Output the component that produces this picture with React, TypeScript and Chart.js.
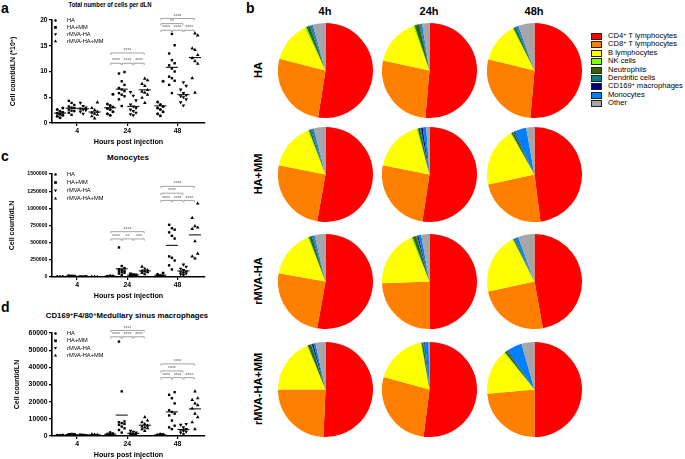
import React, { useEffect, useRef } from 'react';
import { Chart, registerables } from 'chart.js';

Chart.register(...registerables);

const FONT = '"Liberation Sans", Arial, Helvetica, sans-serif';

// ---------- shared categories ----------
const timeLabels = ['4', '24', '48'];
const groupNames = ['HA', 'HA+MM', 'rMVA-HA', 'rMVA-HA+MM'];

// ---------- panel a: total cells per dLN (x10^6), [4h, 24h, 48h] ----------
const totalHA = [
  [1.0, 1.3, 1.5, 1.7, 1.9, 2.1, 2.3, 2.6, 2.9],
  [1.5, 1.8, 2.2, 2.6, 2.8, 3.1, 3.4, 3.7, 5.6],
  [1.4, 1.8, 2.2, 2.6, 2.9, 3.2, 3.6, 4.1, 8.1],
];
const totalHAMM = [
  [1.6, 2.0, 2.3, 2.6, 2.9, 3.2, 3.5, 3.9, 4.3, 2.4, 3.0],
  [3.3, 4.6, 5.2, 5.8, 6.2, 6.8, 7.4, 8.1, 9.6, 9.9, 5.5, 6.5],
  [5.8, 7.4, 8.2, 9.0, 10.0, 10.6, 11.2, 12.2, 13.5, 15.1, 17.3, 8.7, 11.6],
];
const totalRMVA = [
  [1.8, 2.2, 2.5, 2.8, 3.0, 3.3, 3.9, 2.6],
  [1.5, 1.7, 2.3, 2.6, 2.9, 3.2, 3.6, 4.4, 5.3, 6.0, 2.0],
  [3.4, 4.0, 4.6, 5.0, 5.4, 5.8, 6.5, 7.2, 7.9, 5.2],
];
const totalRMVAMM = [
  [0.9, 1.3, 1.6, 2.0, 2.2, 2.5, 2.9, 4.0, 1.8],
  [3.9, 4.9, 5.5, 5.9, 6.4, 7.2, 7.6, 8.3, 8.6, 6.1],
  [5.9, 8.7, 11.5, 12.6, 13.2, 14.2, 14.5, 17.0, 17.4, 12.0],
];

// ---------- panel c: monocytes ----------
const monoHA = [
  [1500, 2500, 3500, 4500, 2000, 3000],
  [4000, 8000, 12000, 16000, 20000, 6000, 10000],
  [5000, 10000, 15000, 25000, 40000, 60000],
];
const monoHAMM = [
  [8000, 12000, 16000, 20000, 10000, 14000, 18000, 6000],
  [30000, 50000, 60000, 70000, 80000, 90000, 100000, 110000, 130000, 160000, 430000],
  [760000, 710000, 690000, 650000, 600000, 560000, 300000, 280000, 240000, 170000, 110000],
];
const monoRMVA = [
  [4000, 6000, 8000, 10000, 5000, 7000],
  [10000, 15000, 20000, 25000, 30000, 35000, 40000, 50000],
  [30000, 40000, 50000, 60000, 70000, 80000, 100000, 120000, 150000, 180000],
];
const monoRMVAMM = [
  [1500, 2500, 3500, 2000, 3000],
  [40000, 60000, 70000, 80000, 90000, 100000, 120000, 150000],
  [1070000, 860000, 740000, 720000, 700000, 520000, 340000, 300000, 270000],
];

// ---------- panel d: CD169+F4/80+ medullary sinus macrophages ----------
const macHA = [
  [200, 300, 400, 500, 600, 350],
  [300, 600, 900, 1200, 1500, 800, 2000],
  [200, 400, 500, 600, 800, 1000, 1200],
];
const macHAMM = [
  [600, 700, 800, 900, 1000, 1100, 1200],
  [2000, 3500, 4500, 5500, 6500, 7000, 7500, 8000, 8500, 26000, 55000],
  [4000, 5000, 6000, 9000, 12000, 13000, 14000, 15000, 19000, 22000, 24000, 25500],
];
const macRMVA = [
  [400, 500, 600, 700, 800],
  [500, 800, 1000, 1200, 1500, 2000, 2500, 3000],
  [1000, 2000, 2500, 3000, 3500, 4000, 5000, 6500, 7000],
];
const macRMVAMM = [
  [500, 600, 700, 800, 900],
  [3000, 4000, 4500, 5000, 5500, 6000, 7000, 8000, 9000, 11000],
  [4000, 8000, 11000, 13000, 16000, 18000, 19000, 21000, 22000, 26000],
];

// significance brackets: [timeIndex, group1, group2, value level, label]
const bracketsA: [number, number, number, number, string][] = [
  [1, 0, 3, 13.6, '****'],
  [1, 0, 1, 11.6, '****'], [1, 1, 2, 11.6, '****'], [1, 2, 3, 11.6, '****'],
  [2, 0, 3, 20.3, '****'],
  [2, 0, 2, 19.3, '**'],
  [2, 0, 1, 18.0, '****'], [2, 1, 2, 18.0, '****'], [2, 2, 3, 18.0, '****'],
];
const bracketsC: [number, number, number, number, string][] = [
  [1, 0, 3, 660000, '****'],
  [1, 0, 1, 555000, '****'], [1, 1, 2, 555000, '**'], [1, 2, 3, 555000, '***'],
  [2, 0, 3, 1320000, '****'],
  [2, 0, 2, 1220000, '****'],
  [2, 0, 1, 1115000, '****'], [2, 1, 2, 1115000, '****'], [2, 2, 3, 1115000, '****'],
];
const bracketsD: [number, number, number, number, string][] = [
  [1, 0, 3, 61500, '****'],
  [1, 0, 1, 57800, '****'], [1, 1, 2, 57800, '****'], [1, 2, 3, 57800, '****'],
  [2, 0, 3, 42000, '****'],
  [2, 0, 2, 37900, '****'],
  [2, 0, 1, 34000, '****'], [2, 1, 2, 34000, '****'], [2, 2, 3, 34000, '****'],
];

// ---------- panel b: pie compositions (%) ----------
const pieCategories = [
  'CD4+ T lymphocytes', 'CD8+ T lymphocytes', 'B lymphocytes', 'NK cells', 'Neutrophils',
  'Dendritic cells', 'CD169+ macrophages', 'Monocytes', 'Other',
];
const pieColors = ['#FF0000', '#FF8000', '#FFFF00', '#80FF00', '#336600', '#008080', '#000080', '#0080FF', '#A6A6A6'];
const pieHA4 = [52.5, 26.5, 13.8, 0.6, 1.2, 0.3, 0.2, 0.6, 4.3];
const pieHA24 = [51.4, 27.0, 16.0, 0.5, 1.6, 0.2, 0.2, 0.6, 2.5];
const pieHA48 = [51.4, 27.4, 13.5, 0.4, 0.8, 0.2, 0.2, 0.6, 5.5];
const pieHAMM4 = [52.8, 25.3, 15.8, 0.4, 0.6, 0.2, 0.2, 0.7, 4.0];
const pieHAMM24 = [52.4, 25.7, 17.5, 0.4, 0.8, 0.3, 0.6, 1.2, 1.1];
const pieHAMM48 = [48.0, 23.6, 20.0, 0.3, 0.8, 0.2, 0.3, 4.0, 2.8];
const pieRMVA4 = [52.8, 25.0, 16.1, 0.4, 1.0, 0.2, 0.2, 0.6, 3.7];
const pieRMVA24 = [50.0, 24.4, 19.3, 0.5, 1.3, 0.3, 0.4, 1.0, 2.8];
const pieRMVA48 = [47.2, 24.4, 20.6, 0.4, 0.4, 0.2, 0.2, 1.0, 5.6];
const pieRMVAMM4 = [50.7, 24.3, 18.6, 0.3, 1.2, 0.3, 0.5, 0.7, 3.4];
const pieRMVAMM24 = [52.0, 27.2, 17.8, 0.3, 0.6, 0.3, 0.3, 1.2, 0.3];
const pieRMVAMM48 = [50.0, 23.6, 15.3, 0.4, 0.8, 0.2, 0.3, 5.0, 4.4];

const pieRows = [
  ['HA', [pieHA4, pieHA24, pieHA48]],
  ['HA+MM', [pieHAMM4, pieHAMM24, pieHAMM48]],
  ['rMVA-HA', [pieRMVA4, pieRMVA24, pieRMVA48]],
  ['rMVA-HA+MM', [pieRMVAMM4, pieRMVAMM24, pieRMVAMM48]],
] as [string, number[][]][];
const pieColumns = ['4h', '24h', '48h'];

// ---------- layout ----------
const OFFSETS = [-0.34, -0.11, 0.12, 0.35];
const MARKERS = ['circle', 'rect', 'triangleDown', 'triangle'];
const PIE_CX = [325, 429, 534];
const PIE_CY = [70, 174, 281, 389];
const PIE_R = 47.5;

function drawMarker(ctx: CanvasRenderingContext2D, kind: string, x: number, y: number, r: number) {
  ctx.beginPath();
  if (kind === 'circle') ctx.arc(x, y, r * 0.8, 0, Math.PI * 2);
  else if (kind === 'rect') ctx.rect(x - r * 0.85, y - r * 0.85, r * 1.7, r * 1.7);
  else if (kind === 'triangle') {
    ctx.moveTo(x, y - r * 1.1); ctx.lineTo(x + r, y + r * 0.7); ctx.lineTo(x - r, y + r * 0.7); ctx.closePath();
  } else {
    ctx.moveTo(x, y + r * 1.1); ctx.lineTo(x + r, y - r * 0.7); ctx.lineTo(x - r, y - r * 0.7); ctx.closePath();
  }
  ctx.fill();
}

type PanelProps = {
  series: number[][][];
  yMax: number;
  yStep: number;
  yTitle: string;
  yTitlePad: number;
  tickSize: number;
  brackets: [number, number, number, number, string][];
  legendStep: number;
  top: number;
};

function ScatterPanel(p: PanelProps) {
  const ref = useRef<HTMLCanvasElement>(null);
  useEffect(() => {
    const canvas = ref.current!;
    const datasets: any[] = [];
    p.series.forEach((groupData, g) => {
      const pts: { x: number; y: number }[] = [];
      groupData.forEach((vals, t) => {
        const order = vals.map((_, i) => i).sort((a, b) => vals[a] - vals[b]);
        order.forEach((idx, rank) => {
          const j = [0, -1, 1][rank % 3] * 0.055;
          pts.push({ x: t + 1 + OFFSETS[g] + j, y: vals[idx] });
        });
      });
      datasets.push({
        label: groupNames[g],
        data: pts,
        pointStyle: g === 0 ? 'circle' : g === 1 ? 'rect' : 'triangle',
        pointRotation: g === 2 ? 180 : 0,
        pointRadius: g === 0 ? 1.5 : g === 1 ? 1.7 : 2.1,
        pointBackgroundColor: '#000',
        pointBorderColor: '#000',
        pointBorderWidth: 0,
        showLine: false,
      });
    });
    const meanPts: { x: number; y: number | null }[] = [];
    p.series.forEach((groupData, g) =>
      groupData.forEach((vals, t) => {
        const m = vals.reduce((a, b) => a + b, 0) / vals.length;
        const c = t + 1 + OFFSETS[g];
        meanPts.push({ x: c - 0.12, y: m }, { x: c + 0.12, y: m }, { x: c + 0.13, y: null });
      })
    );
    datasets.push({
      label: 'mean',
      data: meanPts,
      showLine: true,
      spanGaps: false,
      borderColor: '#000',
      borderWidth: 1,
      pointRadius: 0,
    });

    const tickFont = { family: FONT, size: p.tickSize, weight: 'bold' as const };
    const axisCommon = {
      grid: { display: true, drawOnChartArea: false, drawTicks: true, tickLength: 3, color: '#000', lineWidth: 1.2 },
      border: { display: true, color: '#000', width: 1.6 },
    };

    const legendPlugin = {
      id: 'insetLegend',
      afterDraw(chart: any) {
        const { ctx, chartArea } = chart;
        ctx.save();
        ctx.fillStyle = '#000';
        ctx.font = `5.7px ${FONT}`;
        ctx.textBaseline = 'middle';
        ctx.textAlign = 'left';
        groupNames.forEach((name, i) => {
          const yy = chartArea.top + 0.5 + i * p.legendStep;
          drawMarker(ctx, MARKERS[i], chartArea.left + 3.5, yy, 1.6);
          ctx.fillText(name, chartArea.left + 15, yy);
        });
        ctx.restore();
      },
    };
    const bracketPlugin = {
      id: 'sigBrackets',
      afterDatasetsDraw(chart: any) {
        const { ctx, scales } = chart;
        const xs = scales.x, ys = scales.y;
        ctx.save();
        ctx.strokeStyle = '#8a8a8a';
        ctx.fillStyle = '#8a8a8a';
        ctx.lineWidth = 0.8;
        ctx.font = `bold 5px ${FONT}`;
        ctx.textAlign = 'center';
        ctx.textBaseline = 'bottom';
        p.brackets.forEach(([t, g1, g2, lvl, label]) => {
          const x1 = xs.getPixelForValue(t + 1 + OFFSETS[g1]) + 0.6;
          const x2 = xs.getPixelForValue(t + 1 + OFFSETS[g2]) - 0.6;
          const yy = ys.getPixelForValue(lvl);
          ctx.beginPath();
          ctx.moveTo(x1, yy + 1.8);
          ctx.lineTo(x1, yy);
          ctx.lineTo(x2, yy);
          ctx.lineTo(x2, yy + 1.8);
          ctx.stroke();
          ctx.fillText(label, (x1 + x2) / 2, yy + 0.2);
        });
        ctx.restore();
      },
    };

    const chart = new Chart(canvas, {
      type: 'scatter',
      data: { datasets },
      options: {
        responsive: false,
        animation: false,
        devicePixelRatio: 1,
        layout: { padding: { top: 8, right: 10, bottom: 0, left: 0 } },
        plugins: { legend: { display: false }, tooltip: { enabled: false }, title: { display: false } },
        scales: {
          x: {
            type: 'linear',
            min: 0.5,
            max: 3.55,
            afterBuildTicks: (s: any) => { s.ticks = [{ value: 1 }, { value: 2 }, { value: 3 }]; },
            afterFit: (s: any) => { s.height = 23; },
            ticks: {
              callback: (v: any) => timeLabels[Math.round(Number(v)) - 1],
              font: { family: FONT, size: 6.8, weight: 'bold' },
              color: '#000',
              padding: 1,
              maxRotation: 0,
              autoSkip: false,
            },
            title: {
              display: true,
              text: 'Hours post injection',
              font: { family: FONT, size: 7.2, weight: 'bold' },
              color: '#000',
              padding: { top: 0, bottom: 0 },
            },
            ...axisCommon,
          },
          y: {
            min: 0,
            max: p.yMax,
            afterFit: (s: any) => { s.width = 52; },
            ticks: {
              stepSize: p.yStep,
              font: tickFont,
              color: '#000',
              padding: 1.5,
              callback: (v: any) => String(v),
            },
            title: {
              display: true,
              text: p.yTitle,
              font: { family: FONT, size: 7, weight: 'bold' },
              color: '#000',
              padding: { top: p.yTitlePad, bottom: 0 },
            },
            ...axisCommon,
          },
        },
      } as any,
      plugins: [legendPlugin, bracketPlugin],
    });
    return () => chart.destroy();
  }, []);
  return (
    <canvas
      ref={ref}
      width={215}
      height={134}
      style={{ position: 'absolute', left: 0, top: p.top, width: 215, height: 134 }}
    />
  );
}

function PieChart({ values, cx, cy }: { values: number[]; cx: number; cy: number }) {
  const ref = useRef<HTMLCanvasElement>(null);
  useEffect(() => {
    const chart = new Chart(ref.current!, {
      type: 'pie',
      data: {
        labels: pieCategories,
        datasets: [{ data: values, backgroundColor: pieColors, borderWidth: 0 }],
      },
      options: {
        responsive: false,
        animation: false,
        devicePixelRatio: 1,
        layout: { padding: 0 },
        plugins: { legend: { display: false }, tooltip: { enabled: false } },
      } as any,
    });
    return () => chart.destroy();
  }, []);
  const s = PIE_R * 2;
  return (
    <canvas
      ref={ref}
      width={s}
      height={s}
      style={{ position: 'absolute', left: cx - PIE_R, top: cy - PIE_R, width: s, height: s }}
    />
  );
}

function Txt(props: {
  x: number; y: number; size: number; bold?: boolean; anchor?: 'left' | 'center';
  rotate?: boolean; scaleX?: number; children: React.ReactNode;
}) {
  const { x, y, size, bold, anchor = 'center', rotate, scaleX = 1 } = props;
  const tx = anchor === 'center' ? '-50%' : '0';
  return (
    <div
      style={{
        position: 'absolute', left: x, top: y, fontSize: size, fontWeight: bold ? 'bold' : 'normal',
        lineHeight: 1, whiteSpace: 'nowrap', color: '#000',
        transform: `translate(${tx}, -50%)${rotate ? ' rotate(-90deg)' : ''} scaleX(${scaleX})`,
        transformOrigin: anchor === 'center' ? 'center' : 'left center',
      }}
    >
      {props.children}
    </div>
  );
}

const Sup = ({ c }: { c: string }) => (
  <sup style={{ fontSize: '0.7em', verticalAlign: '0.4em', lineHeight: 0 }}>{c}</sup>
);

export default function App() {
  const legendLabels: React.ReactNode[] = [
    <>CD4<Sup c="+" /> T lymphocytes</>,
    <>CD8<Sup c="+" /> T lymphocytes</>,
    <>B lymphocytes</>,
    <>NK cells</>,
    <>Neutrophils</>,
    <>Dendritic cells</>,
    <>CD169<Sup c="+" /> macrophages</>,
    <>Monocytes</>,
    <>Other</>,
  ];
  return (
    <div
      style={{
        position: 'fixed', left: 0, top: 0, width: 685, height: 459, background: '#fff',
        overflow: 'hidden', fontFamily: FONT, color: '#000',
      }}
    >
      {/* panel letters */}
      <Txt x={1} y={8} size={14} bold anchor="left">a</Txt>
      <Txt x={246} y={8} size={14} bold anchor="left">b</Txt>
      <Txt x={1} y={156} size={14} bold anchor="left">c</Txt>
      <Txt x={1} y={307} size={14} bold anchor="left">d</Txt>

      {/* scatter panel titles */}
      <Txt x={110} y={5} size={7.4} bold scaleX={0.8}>Total number of cells per dLN</Txt>
      <Txt x={128} y={158} size={8} bold>Monocytes</Txt>
      <Txt x={127} y={316} size={7.8} bold>
        CD169<Sup c="+" />F4/80<Sup c="+" />Medullary sinus macrophages
      </Txt>

      <ScatterPanel
        series={[totalHA, totalHAMM, totalRMVA, totalRMVAMM]}
        yMax={20} yStep={5} yTitle="Cell count/dLN (*10⁶)" yTitlePad={9} tickSize={6.6}
        brackets={bracketsA} legendStep={6.9} top={12}
      />
      <ScatterPanel
        series={[monoHA, monoHAMM, monoRMVA, monoRMVAMM]}
        yMax={1500000} yStep={250000} yTitle="Cell count/dLN" yTitlePad={7.5} tickSize={5.2}
        brackets={bracketsC} legendStep={8} top={166}
      />
      <ScatterPanel
        series={[macHA, macHAMM, macRMVA, macRMVAMM]}
        yMax={60000} yStep={10000} yTitle="Cell count/dLN" yTitlePad={13} tickSize={6.8}
        brackets={bracketsD} legendStep={7.3} top={325}
      />

      {/* panel b: column headers */}
      {pieColumns.map((c, i) => (
        <Txt key={c} x={PIE_CX[i]} y={11} size={11} bold>{c}</Txt>
      ))}
      {/* row labels */}
      {pieRows.map(([name], r) => (
        <Txt key={name} x={258} y={PIE_CY[r]} size={11} bold rotate>{name}</Txt>
      ))}
      {/* pies */}
      {pieRows.map(([name, vals], r) =>
        vals.map((v, c) => <PieChart key={name + c} values={v} cx={PIE_CX[c]} cy={PIE_CY[r]} />)
      )}

      {/* pie legend */}
      {pieCategories.map((cat, i) => (
        <React.Fragment key={cat}>
          <div
            style={{
              position: 'absolute', left: 591, top: 36 + i * 8.4 - 3, width: 9, height: 5,
              background: pieColors[i], border: '0.8px solid #222',
            }}
          />
          <Txt x={608} y={36 + i * 8.4} size={7.6} anchor="left">{legendLabels[i]}</Txt>
        </React.Fragment>
      ))}
    </div>
  );
}
